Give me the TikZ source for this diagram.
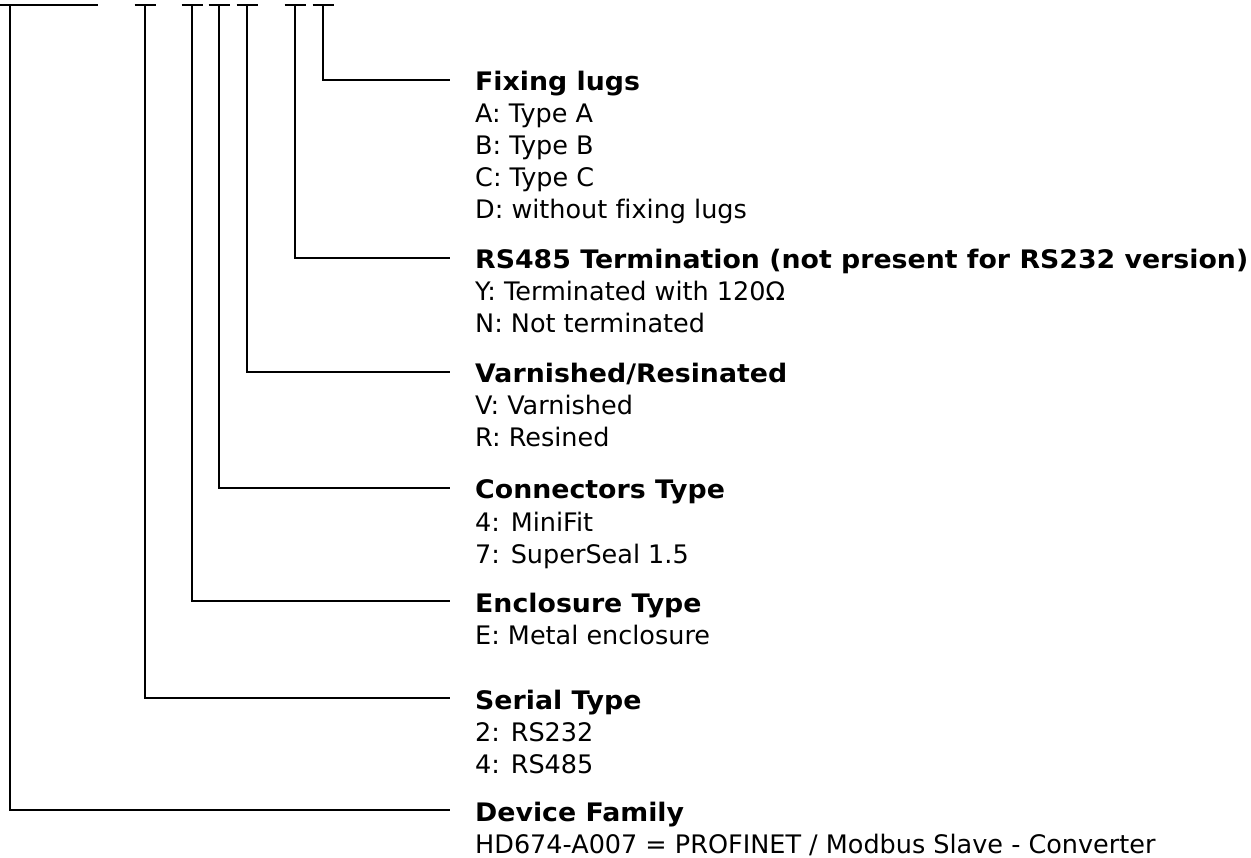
\documentclass[tikz,border=0pt]{standalone}
\usepackage{fontspec}
\setmainfont{DejaVu Sans}[Ligatures=CommonOff, BoldFeatures={FakeStretch=1.05}]
\usetikzlibrary{calc}

\tikzset{
  head/.style={anchor=base west, inner sep=0pt, font=\bfseries\fontsize{25.5}{30}\selectfont},
  item/.style={anchor=base west, inner sep=0pt, font=\fontsize{25.5}{30}\selectfont},
  lead/.style={line width=2pt}
}

\begin{document}
\begin{tikzpicture}[x=1pt,y=-1pt]
  \useasboundingbox (0,0) rectangle (1251,858);
  % positions of the code fields
  \coordinate (fam) at (10,5);
  \coordinate (ser) at (145,5);
  \coordinate (enc) at (192,5);
  \coordinate (con) at (219,5);
  \coordinate (var) at (247,5);
  \coordinate (ter) at (295,5);
  \coordinate (lug) at (323,5);
  \draw[lead] ([xshift=-12pt]fam) -- ([xshift=88pt]fam);
  \foreach \f in {ser,enc,con,var,ter,lug}
    \draw[lead] ([xshift=-10.5pt]\f) -- ([xshift=10.5pt]\f);

  % fixing lugs
  \node[head] (hlug) at (475,91) {Fixing lugs};
  \node[item] (lug1) at (475,123) {A: Type A};
  \node[item] (lug2) at (475,155) {B: Type B};
  \node[item] (lug3) at (475,187) {C: Type C};
  \node[item] (lug4) at (475,219) {D: without fixing lugs};
  \coordinate (elug) at (450,80);
  \draw[lead] (lug) |- (elug);

  % termination
  \node[head] (hter) at (475,269) {RS485 Termination (not present for RS232 version)};
  \node[item] (ter1) at (475,301) {Y: Terminated with 120Ω};
  \node[item] (ter2) at (475,333) {N: Not terminated};
  \coordinate (eter) at (450,258);
  \draw[lead] (ter) |- (eter);

  % varnish
  \node[head] (hvar) at (475,383) {Varnished/Resinated};
  \node[item] (var1) at (475,415) {V: Varnished};
  \node[item] (var2) at (475,447) {R: Resined};
  \coordinate (evar) at (450,372);
  \draw[lead] (var) |- (evar);

  % connectors
  \node[head] (hcon) at (475,499) {Connectors Type};
  \node[item] (con1) at (475,531) {4: MiniFit};
  \node[item] (con2) at (475,563) {7: SuperSeal 1.5};
  \coordinate (econ) at (450,488);
  \draw[lead] (con) |- (econ);

  % enclosure
  \node[head] (henc) at (475,612) {Enclosure Type};
  \node[item] (enc1) at (475,644) {E: Metal enclosure};
  \coordinate (eenc) at (450,601);
  \draw[lead] (enc) |- (eenc);

  % serial
  \node[head] (hser) at (475,709) {Serial Type};
  \node[item] (ser1) at (475,741) {2: RS232};
  \node[item] (ser2) at (475,773) {4: RS485};
  \coordinate (eser) at (450,698);
  \draw[lead] (ser) |- (eser);

  % device family
  \node[head] (hfam) at (475,821) {Device Family};
  \node[item] (fam1) at (475,853) {HD674-A007 = PROFINET / Modbus Slave - Converter};
  \coordinate (efam) at (450,810);
  \draw[lead] (fam) |- (efam);
\end{tikzpicture}
\end{document}
